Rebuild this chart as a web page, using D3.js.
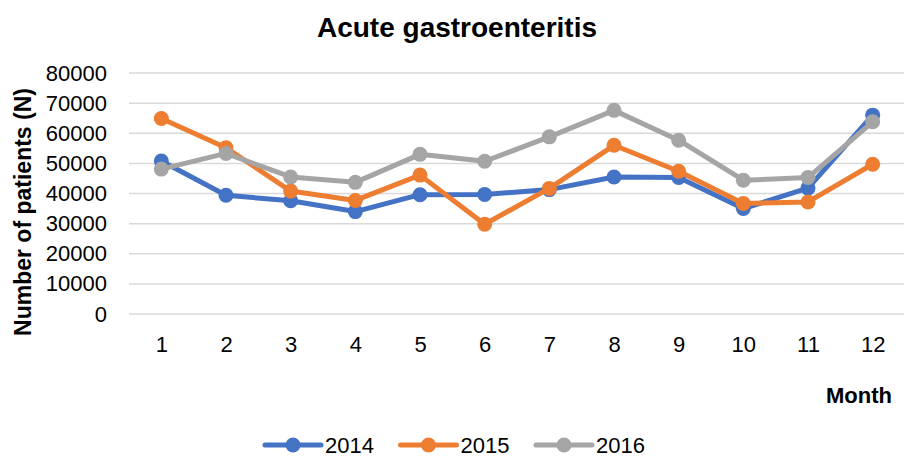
<!DOCTYPE html>
<html>
<head>
<meta charset="utf-8">
<script src="https://cdn.jsdelivr.net/npm/d3@7"></script>
<style>
  body { margin: 0; background: #fff; }
  text { font-family: "Liberation Sans", Arial, sans-serif; fill: #000; }
</style>
</head>
<body>
<div id="chart"></div>
<script>
var months = ["1", "2", "3", "4", "5", "6", "7", "8", "9", "10", "11", "12"];
var years = ["2014", "2015", "2016"];
var values2014 = [50800, 39400, 37600, 34000, 39600, 39700, 41300, 45500, 45300, 35000, 41800, 66000];
var values2015 = [64900, 55200, 40800, 37700, 46100, 29800, 41700, 56000, 47400, 36700, 37200, 49700];
var values2016 = [48100, 53300, 45500, 43700, 53000, 50700, 58800, 67600, 57700, 44400, 45300, 63800];
var yTicks = [0, 10000, 20000, 30000, 40000, 50000, 60000, 70000, 80000];
var colors = ["#4472C4", "#ED7D31", "#A5A5A5"];

var seriesData = [values2014, values2015, values2016];

var width = 904, height = 465;
var margin = {top: 73, right: -1, bottom: 151, left: 129};

var svg = d3.select("#chart").append("svg")
    .attr("width", width)
    .attr("height", height);

var x = d3.scalePoint()
    .domain(months)
    .range([margin.left, width - margin.right])
    .padding(0.5);

var y = d3.scaleLinear()
    .domain([0, 80000])
    .range([height - margin.bottom, margin.top]);

// title
svg.append("text")
    .attr("x", 457)
    .attr("y", 37)
    .attr("text-anchor", "middle")
    .style("font-size", "28px")
    .style("font-weight", "bold")
    .text("Acute gastroenteritis");

// gridlines
svg.append("g")
    .selectAll("line")
    .data(yTicks)
    .enter()
    .append("line")
    .attr("x1", margin.left)
    .attr("x2", width - margin.right)
    .attr("y1", function (d) { return y(d); })
    .attr("y2", function (d) { return y(d); })
    .style("stroke", "#D9D9D9")
    .style("stroke-width", 1.5);

// y axis labels
var yAxis = svg.append("g")
    .attr("transform", "translate(" + (margin.left - 22) + ",0)")
    .call(d3.axisLeft(y).tickValues(yTicks).tickFormat(d3.format("d")).tickSize(0).tickPadding(0));
yAxis.select(".domain").remove();
yAxis.selectAll("text")
    .style("font-size", "22px")
    .style("font-family", "'Liberation Sans', Arial, sans-serif");

// x axis labels
var xAxis = svg.append("g")
    .attr("transform", "translate(0," + y(0) + ")")
    .call(d3.axisBottom(x).tickSize(0).tickPadding(22));
xAxis.select(".domain").remove();
xAxis.selectAll("text")
    .style("font-size", "22px")
    .style("font-family", "'Liberation Sans', Arial, sans-serif");

// axis titles
svg.append("text")
    .attr("transform", "translate(31,212) rotate(-90)")
    .attr("text-anchor", "middle")
    .style("font-size", "23px")
    .style("font-weight", "bold")
    .text("Number of patients (N)");

svg.append("text")
    .attr("x", 892)
    .attr("y", 403)
    .attr("text-anchor", "end")
    .style("font-size", "22px")
    .style("font-weight", "bold")
    .text("Month");

// lines and markers
var line = d3.line()
    .x(function (d, i) { return x(months[i]); })
    .y(function (d) { return y(d); });

seriesData.forEach(function (vals, s) {
    var g = svg.append("g");
    g.append("path")
        .datum(vals)
        .attr("d", line)
        .style("fill", "none")
        .style("stroke", colors[s])
        .style("stroke-width", 5)
        .style("stroke-linejoin", "round");
    g.selectAll("circle")
        .data(vals)
        .enter()
        .append("circle")
        .attr("cx", function (d, i) { return x(months[i]); })
        .attr("cy", function (d) { return y(d); })
        .attr("r", 7.5)
        .style("fill", colors[s]);
});

// legend
var legend = svg.append("g").attr("transform", "translate(265,445)");
years.forEach(function (yr, i) {
    var item = legend.append("g").attr("transform", "translate(" + (i * 135.5) + ",0)");
    item.append("line")
        .attr("x1", 0).attr("x2", 56)
        .attr("y1", 0).attr("y2", 0)
        .style("stroke", colors[i])
        .style("stroke-width", 5)
        .style("stroke-linecap", "round");
    item.append("circle")
        .attr("cx", 28).attr("cy", 0).attr("r", 7.5)
        .style("fill", colors[i]);
    item.append("text")
        .attr("x", 60)
        .attr("y", 8)
        .style("font-size", "22px")
        .text(yr);
});
</script>
</body>
</html>
